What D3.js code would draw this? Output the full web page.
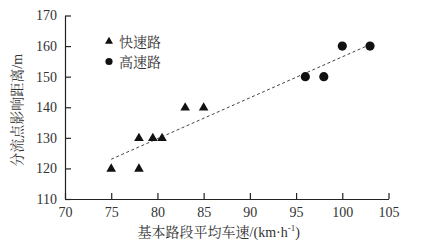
<!DOCTYPE html>
<html>
<head>
<meta charset="utf-8">
<script src="https://cdn.jsdelivr.net/npm/d3@7"></script>
<style>
  body { margin: 0; background: #fff; }
  svg text { font-family: "Liberation Serif", "Noto Sans CJK SC", serif; fill: #333; }
  .cjk { font-family: "Liberation Serif", "Noto Serif CJK SC", "Noto Sans CJK SC", serif; }
</style>
</head>
<body>
<div class="chart"></div>
<script>
// data
const expressway = [ [75, 120], [78, 120], [78, 130], [79.5, 130], [80.5, 130], [83, 140], [85, 140] ];
const highway = [ [96, 150], [98, 150], [100, 160], [103, 160] ];
const trend = [ [75, 123], [103, 160.5] ];
const xTicks = [70, 75, 80, 85, 90, 95, 100, 105];
const yTicks = [110, 120, 130, 140, 150, 160, 170];
const legendLabels = ["快速路", "高速路"];

const W = 436, H = 252;
const margin = { top: 15.5, right: 47.5, bottom: 53, left: 65 };
const width = W - margin.left - margin.right,
      height = H - margin.top - margin.bottom;

const svg = d3.select(".chart").append("svg")
    .attr("width", W)
    .attr("height", H)
    .append("g")
    .attr("transform", "translate(" + margin.left + "," + margin.top + ")");

const x = d3.scaleLinear().domain([70, 105]).range([0, width]);
const y = d3.scaleLinear().domain([110, 170]).range([height, 0]);

// axes, ticks pointing inward
const xAxis = d3.axisBottom(x).tickValues(xTicks).tickSizeInner(-6).tickSizeOuter(0).tickPadding(5);
const yAxis = d3.axisLeft(y).tickValues(yTicks).tickSizeInner(-6).tickSizeOuter(0).tickPadding(8);

const gx = svg.append("g")
    .attr("transform", "translate(0," + height + ")")
    .call(xAxis);
const gy = svg.append("g").call(yAxis);

[gx, gy].forEach(g => {
    g.selectAll("path, line").attr("stroke", "#222").attr("stroke-width", 1.2);
    g.selectAll("text").attr("font-size", 14).attr("fill", "#333")
        .attr("font-family", "Liberation Serif, serif");
});
gx.selectAll("text").attr("dy", "0.9em");

// trend line
svg.append("path")
    .datum(trend)
    .attr("fill", "none")
    .attr("stroke", "#444")
    .attr("stroke-width", 1)
    .attr("stroke-dasharray", "3,2.5")
    .attr("d", d3.line().x(d => x(d[0])).y(d => y(d[1])));

const tri = d3.symbol().type(d3.symbolTriangle).size(40);

svg.selectAll(".tri")
    .data(expressway)
    .enter().append("path")
    .attr("class", "tri")
    .attr("d", tri)
    .attr("fill", "#111")
    .attr("transform", d => "translate(" + x(d[0]) + "," + (y(d[1]) + 0.5) + ")");

svg.selectAll(".dot")
    .data(highway)
    .enter().append("circle")
    .attr("class", "dot")
    .attr("cx", d => x(d[0]))
    .attr("cy", d => y(d[1]))
    .attr("r", 4.6)
    .attr("fill", "#111");

// legend
const legend = svg.append("g").attr("transform", "translate(44,26)");
legend.append("path")
    .attr("d", d3.symbol().type(d3.symbolTriangle).size(28))
    .attr("fill", "#111");
legend.append("circle")
    .attr("cy", 20)
    .attr("r", 3.6)
    .attr("fill", "#111");
legend.selectAll("text")
    .data(legendLabels)
    .enter().append("text")
    .attr("class", "cjk")
    .attr("x", 10)
    .attr("y", (d, i) => i * 20)
    .attr("dy", "0.36em")
    .attr("font-size", 14)
    .text(d => d);

// axis titles
svg.append("text")
    .attr("class", "cjk")
    .attr("x", x(87.5) - 8)
    .attr("y", height + 38)
    .attr("text-anchor", "middle")
    .attr("font-size", 14)
    .html("基本路段平均车速/(km·h<tspan dy='-6' font-size='9'>-1</tspan><tspan dy='6'>)</tspan>");

svg.append("text")
    .attr("class", "cjk")
    .attr("transform", "translate(" + (-43) + "," + y(139) + ") rotate(-90)")
    .attr("text-anchor", "middle")
    .attr("font-size", 14)
    .text("分流点影响距离/m");
</script>
</body>
</html>
